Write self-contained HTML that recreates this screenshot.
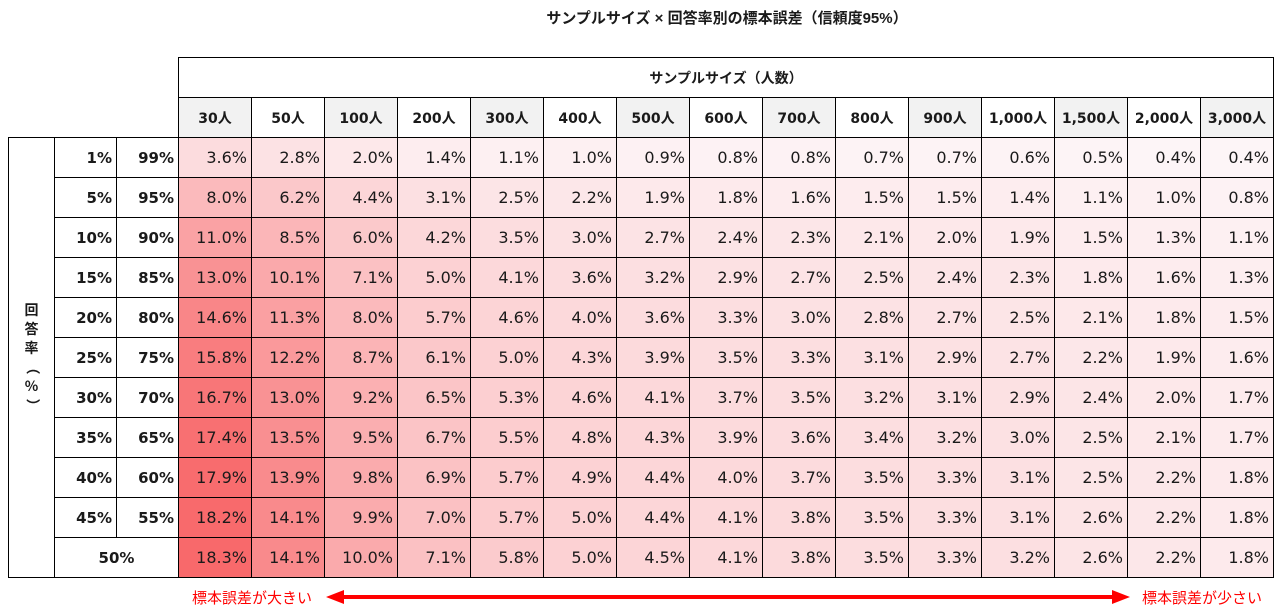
<!DOCTYPE html>
<html><head><meta charset="utf-8">
<style>
html,body{margin:0;padding:0;background:#fff;width:1280px;height:610px;overflow:hidden;}
body{font-family:"DejaVu Sans","Noto Sans CJK JP",sans-serif;color:#1a1a1a;position:relative;}
.title{position:absolute;left:0;width:1454px;top:7px;text-align:center;font-size:15px;font-weight:bold;font-family:"Liberation Sans","Noto Sans CJK JP",sans-serif;}
table{position:absolute;left:8px;top:57px;border-collapse:collapse;table-layout:fixed;font-size:16px;}
td{border:1px solid #000;height:39px;padding:0 4px 0 0;text-align:right;white-space:nowrap;overflow:hidden;}
td.n{border:none;}
td.h{text-align:center;font-weight:bold;padding:0;font-size:14px;}
td.g{background:#f2f2f2;}
td.l{font-weight:bold;font-size:15px;}
td.v{text-align:center;padding:0;font-weight:bold;font-size:15px;}
.vt{display:inline-block;font-weight:bold;font-size:14px;line-height:19px;font-family:"Noto Sans CJK JP",sans-serif;}
.vt span{display:block;}
.vt .r{transform:rotate(90deg);}
.lab{position:absolute;top:587px;font-size:15px;color:#f00;font-family:"Liberation Sans","Noto Sans CJK JP",sans-serif;}
</style></head><body>
<div class="title">サンプルサイズ × 回答率別の標本誤差（信頼度95%）</div>
<table>
<colgroup><col style="width:46px"><col style="width:62px"><col style="width:62px"><col span="15" style="width:73px"></colgroup>
<tr><td class="n"></td><td class="n"></td><td class="n"></td><td class="h" colspan="15">サンプルサイズ（人数）</td></tr>
<tr><td class="n"></td><td class="n"></td><td class="n"></td><td class="h g">30人</td><td class="h">50人</td><td class="h g">100人</td><td class="h">200人</td><td class="h g">300人</td><td class="h">400人</td><td class="h g">500人</td><td class="h">600人</td><td class="h g">700人</td><td class="h">800人</td><td class="h g">900人</td><td class="h">1,000人</td><td class="h g">1,500人</td><td class="h">2,000人</td><td class="h g">3,000人</td></tr>
<tr><td class="v" rowspan="11"><span class="vt"><span>回</span><span>答</span><span>率</span><span class="r">（</span><span>%</span><span class="r">）</span></span></td><td class="l">1%</td><td class="l">99%</td><td>3.6%</td><td>2.8%</td><td>2.0%</td><td>1.4%</td><td>1.1%</td><td>1.0%</td><td>0.9%</td><td>0.8%</td><td>0.8%</td><td>0.7%</td><td>0.7%</td><td>0.6%</td><td>0.5%</td><td>0.4%</td><td>0.4%</td></tr>
<tr><td class="l">5%</td><td class="l">95%</td><td>8.0%</td><td>6.2%</td><td>4.4%</td><td>3.1%</td><td>2.5%</td><td>2.2%</td><td>1.9%</td><td>1.8%</td><td>1.6%</td><td>1.5%</td><td>1.5%</td><td>1.4%</td><td>1.1%</td><td>1.0%</td><td>0.8%</td></tr>
<tr><td class="l">10%</td><td class="l">90%</td><td>11.0%</td><td>8.5%</td><td>6.0%</td><td>4.2%</td><td>3.5%</td><td>3.0%</td><td>2.7%</td><td>2.4%</td><td>2.3%</td><td>2.1%</td><td>2.0%</td><td>1.9%</td><td>1.5%</td><td>1.3%</td><td>1.1%</td></tr>
<tr><td class="l">15%</td><td class="l">85%</td><td>13.0%</td><td>10.1%</td><td>7.1%</td><td>5.0%</td><td>4.1%</td><td>3.6%</td><td>3.2%</td><td>2.9%</td><td>2.7%</td><td>2.5%</td><td>2.4%</td><td>2.3%</td><td>1.8%</td><td>1.6%</td><td>1.3%</td></tr>
<tr><td class="l">20%</td><td class="l">80%</td><td>14.6%</td><td>11.3%</td><td>8.0%</td><td>5.7%</td><td>4.6%</td><td>4.0%</td><td>3.6%</td><td>3.3%</td><td>3.0%</td><td>2.8%</td><td>2.7%</td><td>2.5%</td><td>2.1%</td><td>1.8%</td><td>1.5%</td></tr>
<tr><td class="l">25%</td><td class="l">75%</td><td>15.8%</td><td>12.2%</td><td>8.7%</td><td>6.1%</td><td>5.0%</td><td>4.3%</td><td>3.9%</td><td>3.5%</td><td>3.3%</td><td>3.1%</td><td>2.9%</td><td>2.7%</td><td>2.2%</td><td>1.9%</td><td>1.6%</td></tr>
<tr><td class="l">30%</td><td class="l">70%</td><td>16.7%</td><td>13.0%</td><td>9.2%</td><td>6.5%</td><td>5.3%</td><td>4.6%</td><td>4.1%</td><td>3.7%</td><td>3.5%</td><td>3.2%</td><td>3.1%</td><td>2.9%</td><td>2.4%</td><td>2.0%</td><td>1.7%</td></tr>
<tr><td class="l">35%</td><td class="l">65%</td><td>17.4%</td><td>13.5%</td><td>9.5%</td><td>6.7%</td><td>5.5%</td><td>4.8%</td><td>4.3%</td><td>3.9%</td><td>3.6%</td><td>3.4%</td><td>3.2%</td><td>3.0%</td><td>2.5%</td><td>2.1%</td><td>1.7%</td></tr>
<tr><td class="l">40%</td><td class="l">60%</td><td>17.9%</td><td>13.9%</td><td>9.8%</td><td>6.9%</td><td>5.7%</td><td>4.9%</td><td>4.4%</td><td>4.0%</td><td>3.7%</td><td>3.5%</td><td>3.3%</td><td>3.1%</td><td>2.5%</td><td>2.2%</td><td>1.8%</td></tr>
<tr><td class="l">45%</td><td class="l">55%</td><td>18.2%</td><td>14.1%</td><td>9.9%</td><td>7.0%</td><td>5.7%</td><td>5.0%</td><td>4.4%</td><td>4.1%</td><td>3.8%</td><td>3.5%</td><td>3.3%</td><td>3.1%</td><td>2.6%</td><td>2.2%</td><td>1.8%</td></tr>
<tr><td class="v" colspan="2">50%</td><td>18.3%</td><td>14.1%</td><td>10.0%</td><td>7.1%</td><td>5.8%</td><td>5.0%</td><td>4.5%</td><td>4.1%</td><td>3.8%</td><td>3.5%</td><td>3.3%</td><td>3.2%</td><td>2.6%</td><td>2.2%</td><td>1.8%</td></tr>
</table>
<div class="lab" style="left:192px">標本誤差が大きい</div>
<div class="lab" style="left:1142px">標本誤差が少さい</div>
<svg style="position:absolute;left:0;top:0" width="1280" height="610">
<line x1="340" y1="597" x2="1116" y2="597" stroke="#f00" stroke-width="4"/>
<polygon points="326,597 344,590 344,604" fill="#f00"/>
<polygon points="1130,597 1112,590 1112,604" fill="#f00"/>
</svg>
<script>
document.querySelectorAll('td').forEach(function(td){
 if(td.className) return;
 var v=parseFloat(td.textContent); if(isNaN(v)) return;
 var t=Math.max(0,Math.min(1,(v-0.4)/17.9));
 var r=Math.round(253-5*t),g=Math.round(245-140*t),b=Math.round(247-140*t);
 td.style.background='rgb('+r+','+g+','+b+')';
});
</script>
</body></html>
